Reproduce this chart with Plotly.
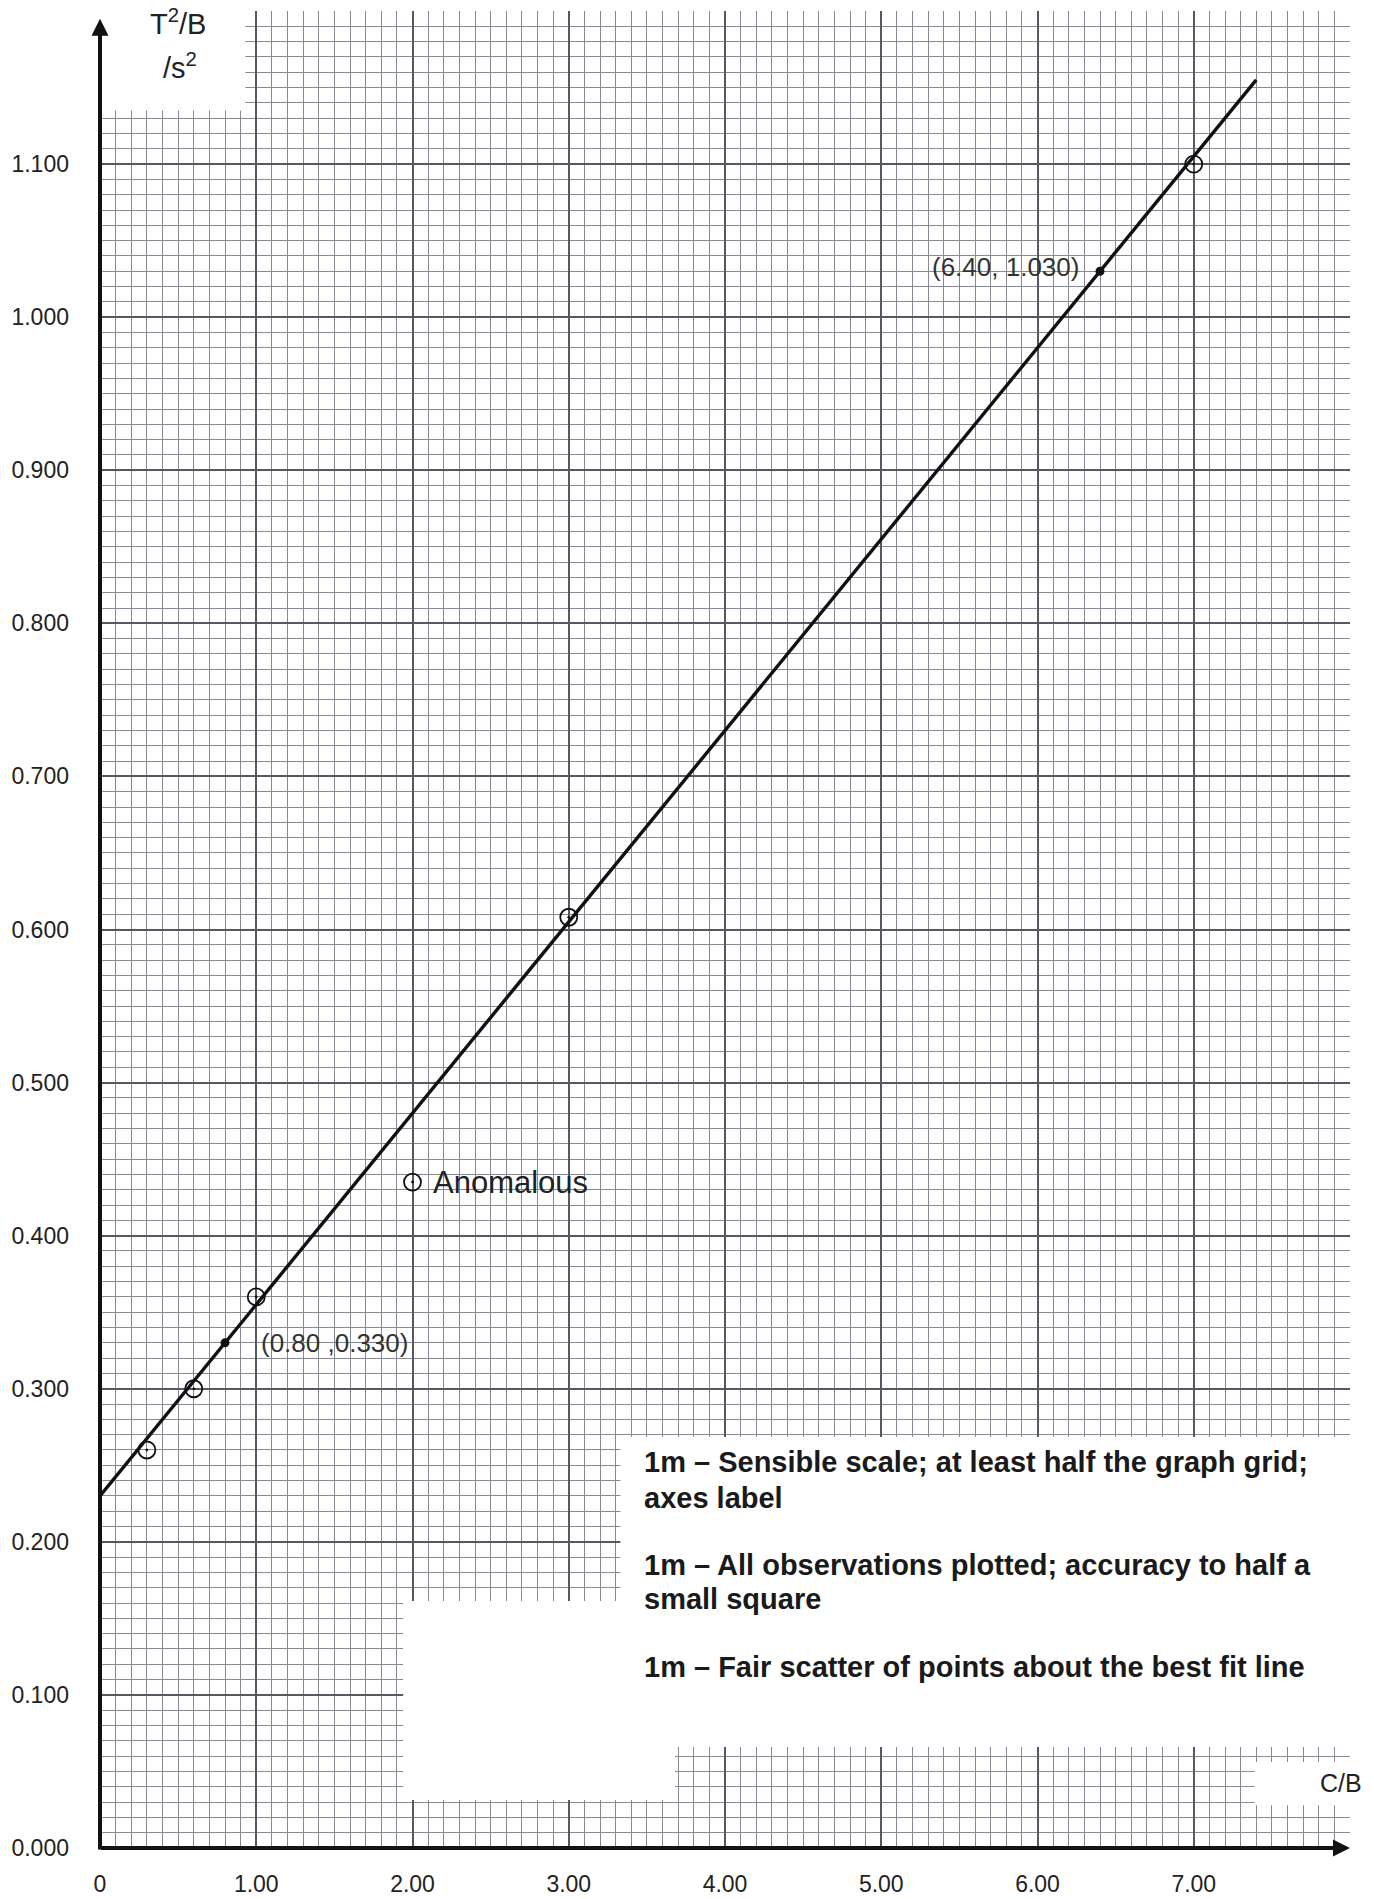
import plotly.graph_objects as go

# ---- data ----
c_b = [0.30, 0.60, 1.00, 3.00, 7.00]
t2_b = [0.260, 0.300, 0.360, 0.608, 1.100]
anomalous_x = [2.00]
anomalous_y = [0.435]
grad_x = [0.80, 6.40]
grad_y = [0.330, 1.030]
grad_labels = ["(0.80 ,0.330)", "(6.40, 1.030)"]
fit_x = [0.00, 7.40]
fit_y = [0.230, 1.155]
x_tickvals = [0, 1, 2, 3, 4, 5, 6, 7]
x_ticktext = ["0", "1.00", "2.00", "3.00", "4.00", "5.00", "6.00", "7.00"]
y_tickvals = [0.0, 0.1, 0.2, 0.3, 0.4, 0.5, 0.6, 0.7, 0.8, 0.9, 1.0, 1.1]
y_ticktext = ["0.000", "0.100", "0.200", "0.300", "0.400", "0.500", "0.600",
              "0.700", "0.800", "0.900", "1.000", "1.100"]
notes = [
    "1m \u2013 Sensible scale; at least half the graph grid;",
    "axes label",
    "1m \u2013 All observations plotted; accuracy to half a",
    "small square",
    "1m \u2013 Fair scatter of points about the best fit line",
]

FONT = "Liberation Sans, Arial, sans-serif"
W, H = 1374, 1899
XMAX, YMAX = 8.0, 1.2

fig = go.Figure()

# best-fit line
fig.add_trace(go.Scatter(x=fit_x, y=fit_y, mode="lines",
                         line=dict(color="#111111", width=3.4),
                         hoverinfo="skip", showlegend=False, cliponaxis=False))
# observations
fig.add_trace(go.Scatter(x=c_b, y=t2_b, mode="markers",
                         marker=dict(symbol="circle-open-dot", size=17,
                                     color="#111111", line=dict(width=1.8, color="#111111")),
                         showlegend=False, cliponaxis=False))
fig.add_trace(go.Scatter(x=anomalous_x, y=anomalous_y, mode="markers",
                         marker=dict(symbol="circle-open-dot", size=17,
                                     color="#111111", line=dict(width=1.8, color="#111111")),
                         showlegend=False, cliponaxis=False))
# gradient points
fig.add_trace(go.Scatter(x=grad_x, y=grad_y, mode="markers",
                         marker=dict(symbol="circle", size=9, color="#111111"),
                         showlegend=False, cliponaxis=False))

# white cut-outs on the graph paper
white_boxes = [
    (0.01, 0.93, 1.135, 1.21),    # y-axis title area
    (3.33, 8.10, 0.066, 0.2685),  # marking notes
    (1.94, 3.68, 0.0314, 0.1614),  # lower blank
    (7.39, 8.10, 0.028, 0.0562),  # x-axis title area
]
for x0, x1, y0, y1 in white_boxes:
    fig.add_shape(type="rect", xref="x", yref="y", x0=x0, x1=x1, y0=y0, y1=y1,
                  fillcolor="white", line=dict(width=0), layer="between")

ann = []
# axes with arrowheads
ann.append(dict(x=0, y=1.195, ax=0, ay=-0.002, xref="x", yref="y", axref="x", ayref="y",
                text="", showarrow=True, arrowhead=2, arrowsize=0.85, arrowwidth=4,
                arrowcolor="#111111"))
ann.append(dict(x=8.0, y=0, ax=-0.003, ay=0, xref="x", yref="y", axref="x", ayref="y",
                text="", showarrow=True, arrowhead=2, arrowsize=0.85, arrowwidth=4,
                arrowcolor="#111111"))
# axis titles
ann.append(dict(x=0.50, y=1.193, xref="x", yref="y", text="T<sup>2</sup>/B",
                showarrow=False, font=dict(family=FONT, size=29, color="#222")))
ann.append(dict(x=0.51, y=1.164, xref="x", yref="y", text="/s<sup>2</sup>",
                showarrow=False, font=dict(family=FONT, size=29, color="#222")))
ann.append(dict(x=8.0, y=0.0425, xref="x", yref="y", text="C/B", xanchor="right",
                xshift=14, showarrow=False, font=dict(family=FONT, size=25, color="#222")))
# labels on the plot
ann.append(dict(x=2.12, y=0.435, xref="x", yref="y", text="Anomalous", xanchor="left",
                showarrow=False, font=dict(family=FONT, size=31, color="#222")))
ann.append(dict(x=1.02, y=grad_y[0], xref="x", yref="y", text=grad_labels[0], xanchor="left",
                showarrow=False, font=dict(family=FONT, size=26, color="#333")))
ann.append(dict(x=6.28, y=grad_y[1] + 0.003, xref="x", yref="y", text=grad_labels[1],
                xanchor="right", showarrow=False, font=dict(family=FONT, size=26, color="#333")))
# marking notes
note_y = [0.2522, 0.2286, 0.1848, 0.1626, 0.1182]
for t, yy in zip(notes, note_y):
    ann.append(dict(x=3.47, y=yy, xref="x", yref="y", text="<b>" + t + "</b>",
                    xanchor="left", showarrow=False,
                    font=dict(family=FONT, size=29, color="#1a1a1a")))

fig.update_layout(
    width=W, height=H,
    margin=dict(l=100, r=24, t=11, b=51, autoexpand=False),
    paper_bgcolor="white", plot_bgcolor="white",
    showlegend=False,
    annotations=ann,
    xaxis=dict(range=[0, XMAX], tickmode="array", tickvals=x_tickvals, ticktext=x_ticktext,
               showgrid=True, gridcolor="#565961", gridwidth=2.2,
               minor=dict(dtick=0.1, tick0=0, showgrid=True, gridcolor="#868992", gridwidth=1.4),
               zeroline=False, showline=False, ticks="", ticklabelstandoff=20,
               automargin=False, layer="below traces",
               tickfont=dict(family=FONT, size=23, color="#222"), fixedrange=True),
    yaxis=dict(range=[0, YMAX], tickmode="array", tickvals=y_tickvals, ticktext=y_ticktext,
               showgrid=True, gridcolor="#565961", gridwidth=2.2,
               minor=dict(dtick=0.01, tick0=0, showgrid=True, gridcolor="#868992", gridwidth=1.4),
               zeroline=False, showline=False, ticks="", ticklabelstandoff=30,
               automargin=False, layer="below traces",
               tickfont=dict(family=FONT, size=23, color="#222"), fixedrange=True),
)

fig.write_html("out.html", config={"displayModeBar": False},
               post_script="document.body.style.margin='0px';document.body.style.overflow='hidden';")
